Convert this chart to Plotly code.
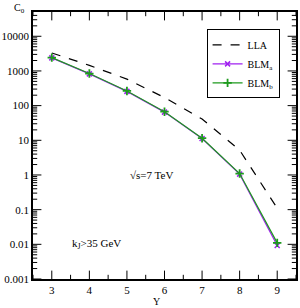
import plotly.graph_objects as go
import numpy as np

Y = [3, 4, 5, 6, 7, 8, 9]
LLA = [3300, 1450, 580, 171, 41, 5.2, 0.11]
BLM_a = [2380, 825, 258, 65, 11.2, 1.06, 0.0093]
BLM_b = [2430, 841, 265, 66.7, 11.5, 1.1, 0.011]
ytick_vals = [0.001, 0.01, 0.1, 1, 10, 100, 1000, 10000]
ytick_text = ["0.001", "0.01", "0.1", "1", "10", "100", "1000", "10000"]
yminor_vals = [m * 10.0 ** e for e in range(-3, 5) for m in range(2, 10) if m * 10.0 ** e < 50000]
xtick_vals = [3, 4, 5, 6, 7, 8, 9]
xminor_vals = [3.5, 4.5, 5.5, 6.5, 7.5, 8.5, 9.5, 2.5]
XRANGE = [2.5, 9.5]
YRANGE_LOG = [-3, 4.7]

FONT = "Liberation Serif"

fig = go.Figure()
fig.add_trace(go.Scatter(x=Y, y=LLA, mode="lines", name="LLA",
                         line=dict(color="black", width=1.2, dash="dash")))
fig.add_trace(go.Scatter(x=Y, y=BLM_a, mode="lines+markers", name="BLM<sub>a</sub>",
                         line=dict(color="#A020F0", width=1.2),
                         marker=dict(symbol="x-thin", size=5, color="#A020F0",
                                     line=dict(color="#A020F0", width=1.5))))
fig.add_trace(go.Scatter(x=Y, y=BLM_b, mode="lines+markers", name="BLM<sub>b</sub>",
                         line=dict(color="#1E9A1E", width=1.2),
                         marker=dict(symbol="cross-thin", size=6, color="#1E9A1E",
                                     line=dict(color="#1E9A1E", width=1.8))))

# inward tick marks, drawn as clipped markers on the frame edges
ylo, yhi = 10 ** YRANGE_LOG[0], 10 ** YRANGE_LOG[1]
def tick_trace(xs, ys, symbol, size):
    return go.Scatter(x=xs, y=ys, mode="markers", showlegend=False, hoverinfo="skip",
                      cliponaxis=True,
                      marker=dict(symbol=symbol, size=size, color="black",
                                  line=dict(color="black", width=1)))

for yedge in (ylo, yhi):
    fig.add_trace(tick_trace(xtick_vals, [yedge] * len(xtick_vals), "line-ns", 12))
    fig.add_trace(tick_trace(xminor_vals, [yedge] * len(xminor_vals), "line-ns", 6))
for xedge in XRANGE:
    fig.add_trace(tick_trace([xedge] * len(ytick_vals), ytick_vals, "line-ew", 12))
    fig.add_trace(tick_trace([xedge] * len(yminor_vals), yminor_vals, "line-ew", 6))

fig.update_layout(
    width=300, height=308,
    margin=dict(l=32, r=2, t=12, b=29),
    paper_bgcolor="white", plot_bgcolor="white",
    font=dict(family=FONT, size=11, color="black"),
    showlegend=True,
    legend=dict(x=0.66, y=0.935, xanchor="left", yanchor="top",
                bordercolor="black", borderwidth=1, bgcolor="white",
                font=dict(family=FONT, size=10), tracegroupgap=0,
                itemwidth=30),
    xaxis=dict(range=XRANGE, tickmode="array", tickvals=xtick_vals, ticks="",
               showline=True, linecolor="black", linewidth=1.5, mirror=True,
               showgrid=False, zeroline=False, tickfont=dict(family=FONT, size=11)),
    yaxis=dict(type="log", range=YRANGE_LOG, tickmode="array", tickvals=ytick_vals,
               ticktext=ytick_text, ticks="", showline=True,
               linecolor="black", linewidth=1.5, mirror=True, showgrid=False,
               zeroline=False, tickfont=dict(family=FONT, size=11)),
    annotations=[
        dict(text="C<sub>0</sub>", xref="paper", yref="paper", x=-0.05, y=1.046,
             xanchor="center", yanchor="top", showarrow=False,
             font=dict(family=FONT, size=10)),
        dict(text="Y", xref="paper", yref="paper", x=0.47, y=-0.085,
             xanchor="center", yanchor="middle", showarrow=False,
             font=dict(family=FONT, size=10)),
        dict(text="√s=7 TeV", x=5.65, y=0.0, yref="y", xref="x", showarrow=False,
             font=dict(family=FONT, size=11), yanchor="middle"),
        dict(text="k<sub>J</sub>>35 GeV", x=4.2, y=float(np.log10(0.0105)), xref="x", yref="y",
             showarrow=False, font=dict(family=FONT, size=11), yanchor="middle"),
    ],
)

fig.write_html("out.html", config={"displayModeBar": False},
               post_script="document.body.style.margin='0';")
